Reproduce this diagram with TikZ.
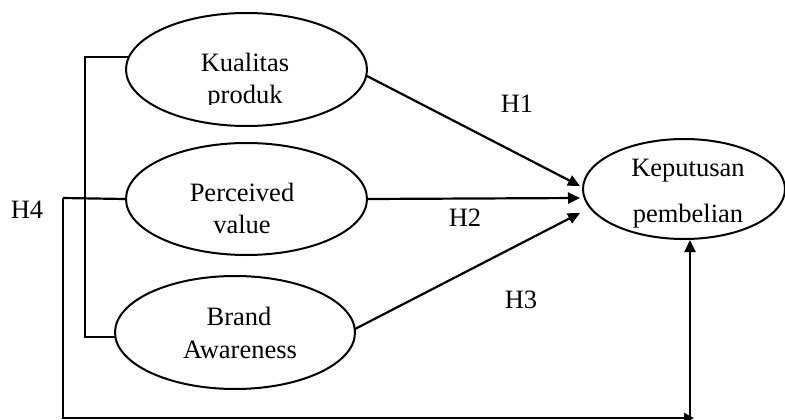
\documentclass[tikz,border=0pt]{standalone}
\usepackage{fontspec}
\setmainfont{Liberation Serif}
\usetikzlibrary{shapes.geometric,arrows.meta}
\begin{document}
\begin{tikzpicture}[x=1pt,y=-1pt,
  ell/.style={draw, ellipse, line width=2pt, inner sep=0pt},
  lbl/.style={anchor=base, font=\fontsize{26.5}{30}\selectfont, inner sep=0pt},
  con/.style={line width=2.2pt},
  arr/.style={con, -{Triangle[length=12pt,width=11pt]}}]
\useasboundingbox (0,0) rectangle (785,420);
% ellipses
\node[ell, minimum width=241pt, minimum height=113pt] (e1) at (246.5,69.5) {};
\node[ell, minimum width=241pt, minimum height=112pt] (e2) at (246.5,199) {};
\node[ell, minimum width=240pt, minimum height=113pt] (e3) at (235,332.5) {};
\node[ell, minimum width=202pt, minimum height=100pt] (e4) at (684,189) {};
% texts
\node[lbl] (k1) at (245,72) {Kualitas};
\begin{scope}
\clip (150,80) rectangle (340,104.5);
\node[lbl] (k2) at (245,103.5) {produk};
\end{scope}
\node[lbl] (p1) at (242,201) {Perceived};
\node[lbl] (p2) at (242,233) {value};
\node[lbl] (b1) at (239,325) {Brand};
\node[lbl] (b2) at (240,358) {Awareness};
\node[lbl] (d1) at (688,176) {Keputusan};
\node[lbl] (d2) at (688,222) {pembelian};
\node[lbl] (h1) at (517,113) {H1};
\node[lbl] (h2) at (465,226) {H2};
\node[lbl] (h3) at (521,308) {H3};
\node[lbl] (h4) at (27,218) {H4};
% arrow tips
\coordinate (t1) at (580,186);
\coordinate (t2) at (580,198);
\coordinate (t3) at (580,213);
\coordinate (s1) at (367,76);
\coordinate (s3) at (355,329);
\draw[arr] (s1) -- (t1);
\draw[arr] (e2.east) -- (t2);
\draw[arr] (s3) -- (t3);
% bracket
\coordinate (ba) at (85,57);
\coordinate (bb) at (85,337);
\draw[con] (e1.west |- ba) ++(3,0) -- (ba) -- (bb) -- ([xshift=0.5pt]e3.west |- bb);
% H4 path
\coordinate (ha) at (63,198);
\coordinate (hb) at (63,418);
\coordinate (hc) at (694,418);
\coordinate (hd) at (690,418);
\draw[con] (e2.west) -- (ha);
\draw[con,-{Triangle[length=10pt,width=10pt]}] (ha) -- (hb) -- (hc);
\draw[arr] (hd) -- (hd |- e4.south);
\end{tikzpicture}
\end{document}
